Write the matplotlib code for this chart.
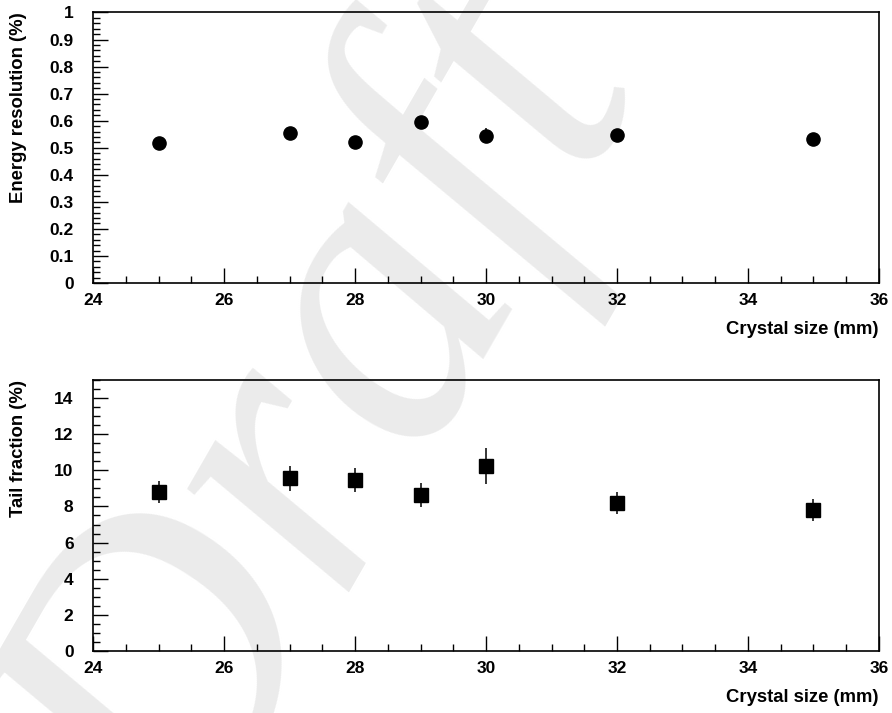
import matplotlib
matplotlib.use('Agg')
import matplotlib.pyplot as plt
from matplotlib.ticker import MultipleLocator, FuncFormatter

# crystal sizes (mm)
sizes = [25, 27, 28, 29, 30, 32, 35]

# energy resolution (%)
resolution = [0.516, 0.553, 0.522, 0.594, 0.545, 0.548, 0.533]
resolution_err = [0.01, 0.01, 0.01, 0.01, 0.028, 0.01, 0.01]

# tail fraction (%)
tail = [8.80, 9.56, 9.46, 8.63, 10.24, 8.17, 7.80]
tail_err = [0.63, 0.68, 0.66, 0.66, 0.99, 0.61, 0.62]

xlabel = 'Crystal size (mm)'
ylabel_top = 'Energy resolution (%)'
ylabel_bottom = 'Tail fraction (%)'

plt.rcParams['font.family'] = ['Liberation Sans', 'DejaVu Sans']
plt.rcParams['font.weight'] = 'bold'

fig = plt.figure(figsize=(8.92, 7.13), dpi=100)

# "Draft" watermark behind the plots
fig.text(0.37, 0.40, 'Draft', fontsize=300, color='#ebebeb',
         family='Liberation Serif', style='italic', fontweight='normal',
         rotation=60, rotation_mode='anchor', ha='center', va='center', zorder=-1)

ax1 = fig.add_axes([0.1043, 0.6031, 0.8811, 0.3794])
ax2 = fig.add_axes([0.1043, 0.0870, 0.8811, 0.3800])


def style_axis(ax, ymax, ymajor, yminor, ylabel):
    ax.patch.set_alpha(0)
    ax.set_xlim(24, 36)
    ax.set_ylim(0, ymax)
    ax.xaxis.set_major_locator(MultipleLocator(2))
    ax.xaxis.set_minor_locator(MultipleLocator(0.5))
    ax.yaxis.set_major_locator(MultipleLocator(ymajor))
    ax.yaxis.set_minor_locator(MultipleLocator(yminor))
    ax.yaxis.set_major_formatter(FuncFormatter(lambda v, p: f'{v:g}'))
    ax.tick_params(which='both', direction='in', top=False, right=False,
                   width=1.0, labelsize=12.5, color='black')
    ax.tick_params(which='major', length=10.5)
    ax.tick_params(which='minor', length=5)
    ax.tick_params(axis='x', which='major', pad=7)
    ax.tick_params(axis='y', which='major', pad=14)
    for s in ax.spines.values():
        s.set_linewidth(1.2)
    ax.set_xlabel(xlabel, fontsize=13.3, fontweight='bold', loc='right')
    ax.xaxis.set_label_coords(1.0, -0.14)
    ax.set_ylabel(ylabel, fontsize=13.3, fontweight='bold', loc='top')
    ax.yaxis.set_label_coords(-0.084, 1.0)


style_axis(ax1, 1.0, 0.1, 0.02, ylabel_top)
ax1.errorbar(sizes, resolution, yerr=resolution_err, fmt='o', color='black',
             markersize=9.5, elinewidth=1.1, capsize=0, zorder=3)

style_axis(ax2, 15, 2, 0.5, ylabel_bottom)
ax2.errorbar(sizes, tail, yerr=tail_err, fmt='s', color='black',
             markersize=10, elinewidth=1.1, capsize=0, zorder=3)

fig.savefig('out.png', dpi=100)
